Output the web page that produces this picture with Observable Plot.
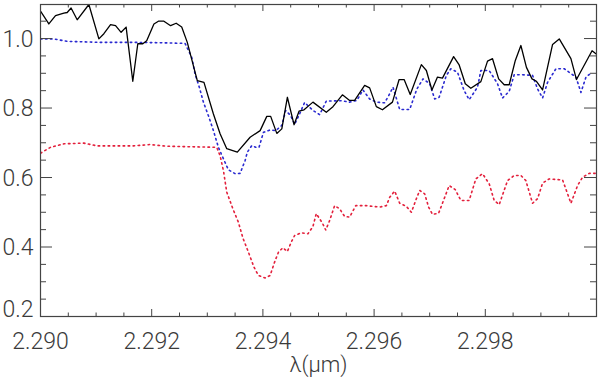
<!DOCTYPE html>
<html>
<head>
<meta charset="utf-8">
<script src="https://cdn.jsdelivr.net/npm/d3@7"></script>
<script src="https://cdn.jsdelivr.net/npm/@observablehq/plot@0.6"></script>
<style>
  html, body { margin: 0; padding: 0; background: #fff; }
  #chart svg { display: block; font-family: Roboto, "DejaVu Sans", sans-serif; }
</style>
</head>
<body>
<div id="chart"></div>
<script>
// Black solid (observed)
const blackX = [2.29000,2.29015,2.29027,2.29042,2.29048,2.29055,2.29066,2.29087,2.29105,2.29114,2.29126,2.29135,2.29145,2.29154,2.29166,2.29175,2.29184,2.29191,2.29204,2.29212,2.29222,2.29234,2.29244,2.29254,2.29264,2.29282,2.29294,2.29311,2.29323,2.29335,2.29354,2.29377,2.29395,2.29407,2.29414,2.29425,2.29434,2.29444,2.29456,2.29465,2.29474,2.29490,2.29514,2.29526,2.29543,2.29556,2.29565,2.29583,2.29592,2.29604,2.29615,2.29633,2.29645,2.29654,2.29665,2.29685,2.29694,2.29704,2.29714,2.29723,2.29743,2.29753,2.29764,2.29774,2.29792,2.29804,2.29813,2.29824,2.29834,2.29843,2.29854,2.29864,2.29874,2.29884,2.29892,2.29903,2.29921,2.29933,2.29954,2.29964,2.29992,2.29999];
const blackY = [1.079,1.042,1.066,1.073,1.075,1.088,1.054,1.098,0.999,1.014,1.040,1.037,1.018,1.033,0.877,0.985,0.985,0.994,1.042,1.050,1.050,1.037,1.044,1.033,0.989,0.879,0.874,0.783,0.726,0.683,0.673,0.716,0.735,0.776,0.776,0.727,0.740,0.831,0.752,0.791,0.795,0.817,0.788,0.804,0.838,0.822,0.822,0.865,0.858,0.804,0.795,0.817,0.882,0.882,0.839,0.925,0.908,0.852,0.889,0.886,0.948,0.924,0.870,0.857,0.876,0.935,0.942,0.884,0.867,0.867,0.937,0.980,0.917,0.884,0.877,0.852,0.983,0.999,0.942,0.882,0.965,0.956];

// Blue dotted
const blueX = [2.29000,2.29024,2.29048,2.29108,2.29167,2.29215,2.29260,2.29272,2.29278,2.29286,2.29293,2.29302,2.29311,2.29320,2.29329,2.29338,2.29350,2.29359,2.29368,2.29372,2.29380,2.29387,2.29393,2.29401,2.29413,2.29423,2.29434,2.29441,2.29450,2.29457,2.29466,2.29475,2.29490,2.29502,2.29514,2.29541,2.29556,2.29569,2.29580,2.29592,2.29604,2.29619,2.29628,2.29634,2.29646,2.29664,2.29677,2.29688,2.29700,2.29709,2.29717,2.29730,2.29738,2.29750,2.29762,2.29771,2.29786,2.29792,2.29807,2.29822,2.29831,2.29843,2.29852,2.29864,2.29885,2.29894,2.29903,2.29912,2.29927,2.29942,2.29963,2.29972,2.29981,2.29992];
const blueY = [0.999,0.999,0.992,0.989,0.989,0.988,0.986,0.946,0.898,0.858,0.817,0.778,0.735,0.687,0.654,0.622,0.611,0.612,0.649,0.673,0.692,0.687,0.687,0.730,0.737,0.735,0.750,0.793,0.778,0.753,0.783,0.816,0.793,0.781,0.820,0.821,0.817,0.822,0.852,0.826,0.817,0.815,0.841,0.860,0.796,0.796,0.855,0.884,0.870,0.826,0.831,0.894,0.913,0.903,0.850,0.824,0.860,0.908,0.908,0.870,0.829,0.848,0.896,0.896,0.894,0.855,0.829,0.874,0.913,0.913,0.889,0.845,0.889,0.903];

// Red dotted
const redX = [2.29000,2.29018,2.29042,2.29078,2.29102,2.29167,2.29197,2.29227,2.29287,2.29317,2.29323,2.29329,2.29335,2.29346,2.29356,2.29364,2.29374,2.29384,2.29392,2.29404,2.29413,2.29422,2.29428,2.29436,2.29444,2.29451,2.29457,2.29469,2.29481,2.29490,2.29496,2.29507,2.29513,2.29520,2.29529,2.29538,2.29547,2.29556,2.29567,2.29586,2.29610,2.29622,2.29628,2.29637,2.29646,2.29658,2.29667,2.29676,2.29682,2.29691,2.29698,2.29705,2.29716,2.29726,2.29735,2.29746,2.29756,2.29771,2.29783,2.29795,2.29807,2.29816,2.29825,2.29840,2.29852,2.29864,2.29873,2.29885,2.29894,2.29903,2.29915,2.29939,2.29948,2.29954,2.29966,2.29975,2.29987,2.29999];
const redY = [0.670,0.687,0.697,0.699,0.691,0.691,0.695,0.690,0.688,0.687,0.663,0.620,0.558,0.510,0.471,0.426,0.385,0.342,0.318,0.311,0.318,0.361,0.385,0.398,0.387,0.414,0.433,0.441,0.438,0.459,0.496,0.469,0.449,0.476,0.519,0.510,0.488,0.486,0.519,0.519,0.515,0.519,0.543,0.561,0.526,0.517,0.500,0.539,0.563,0.553,0.515,0.494,0.497,0.539,0.577,0.565,0.534,0.534,0.596,0.611,0.582,0.534,0.522,0.591,0.606,0.606,0.591,0.526,0.539,0.584,0.596,0.593,0.553,0.526,0.577,0.601,0.612,0.612];

// Ticks and labels
const xMajor = [2.290, 2.292, 2.294, 2.296, 2.298, 2.300];
const xMinor = [2.2905,2.2910,2.2915,2.2925,2.2930,2.2935,2.2945,2.2950,2.2955,2.2965,2.2970,2.2975,2.2985,2.2990,2.2995];
const xLabelValues = [2.290, 2.292, 2.294, 2.296, 2.298];
const xLabels = ["2.290", "2.292", "2.294", "2.296", "2.298"];
const yMajor = [0.2, 0.4, 0.6, 0.8, 1.0];
const yMinor = [0.25,0.30,0.35,0.45,0.50,0.55,0.65,0.70,0.75,0.85,0.90,0.95,1.05];
const yLabels = ["0.2", "0.4", "0.6", "0.8", "1.0"];
const xTitle = "λ(μm)";

const W = 600, H = 380;
const mL = 40, mR = 4, mT = 4, mB = 64;
const pw = W - mL - mR, ph = H - mT - mB;
const axisColor = "#444";
const textColor = "#3a3a3a";

const pts = (xs, ys) => xs.map((x, i) => ({x, y: ys[i]}));
const yLab = yMajor.map((v, i) => ({v, t: yLabels[i]}));

const chart = Plot.plot({
  width: W, height: H,
  marginLeft: mL, marginRight: mR, marginTop: mT, marginBottom: mB,
  x: {domain: [2.290, 2.300], axis: null},
  y: {domain: [0.2, 1.098], axis: null},
  style: {fontFamily: "Roboto, 'DejaVu Sans', sans-serif"},
  marks: [
    Plot.line(pts(redX, redY), {x: "x", y: "y", stroke: "#e3203c", strokeWidth: 1.6, strokeDasharray: "1.5,3.5", clip: true}),
    Plot.line(pts(blueX, blueY), {x: "x", y: "y", stroke: "#2a2ad0", strokeWidth: 1.6, strokeDasharray: "1.5,3.5", clip: true}),
    Plot.line(pts(blackX, blackY), {x: "x", y: "y", stroke: "#000", strokeWidth: 1.3, clip: true}),
    // inward ticks: bottom / top
    Plot.tickX(xMajor, {x: d => d, insetTop: ph - 7, stroke: axisColor}),
    Plot.tickX(xMinor, {x: d => d, insetTop: ph - 3.5, stroke: axisColor}),
    Plot.tickX(xMajor, {x: d => d, insetBottom: ph - 7, stroke: axisColor}),
    Plot.tickX(xMinor, {x: d => d, insetBottom: ph - 3.5, stroke: axisColor}),
    // inward ticks: left / right
    Plot.tickY(yMajor, {y: d => d, insetRight: pw - 12, stroke: axisColor}),
    Plot.tickY(yMinor, {y: d => d, insetRight: pw - 6, stroke: axisColor}),
    Plot.tickY(yMajor, {y: d => d, insetLeft: pw - 12, stroke: axisColor}),
    Plot.tickY(yMinor, {y: d => d, insetLeft: pw - 6, stroke: axisColor}),
    Plot.frame({stroke: axisColor, strokeWidth: 1.2}),
    // labels
    Plot.text(xLabelValues, {x: d => d, text: (d, i) => xLabels[i], frameAnchor: "bottom", dy: 32, fontSize: 23, fontWeight: 300, fill: textColor}),
    Plot.text(yLab.filter(d => d.v > 0.2), {y: "v", text: "t", frameAnchor: "left", textAnchor: "end", dx: -7, dy: 1, fontSize: 23, fontWeight: 300, fill: textColor}),
    Plot.text(yLab.filter(d => d.v === 0.2), {y: "v", text: "t", frameAnchor: "left", textAnchor: "end", dx: -7, dy: -7, fontSize: 23, fontWeight: 300, fill: textColor}),
    Plot.text([xTitle], {text: d => d, frameAnchor: "bottom", dy: 55, fontSize: 22, fontWeight: 300, fill: textColor})
  ]
});
document.getElementById("chart").appendChild(chart);
</script>
</body>
</html>
